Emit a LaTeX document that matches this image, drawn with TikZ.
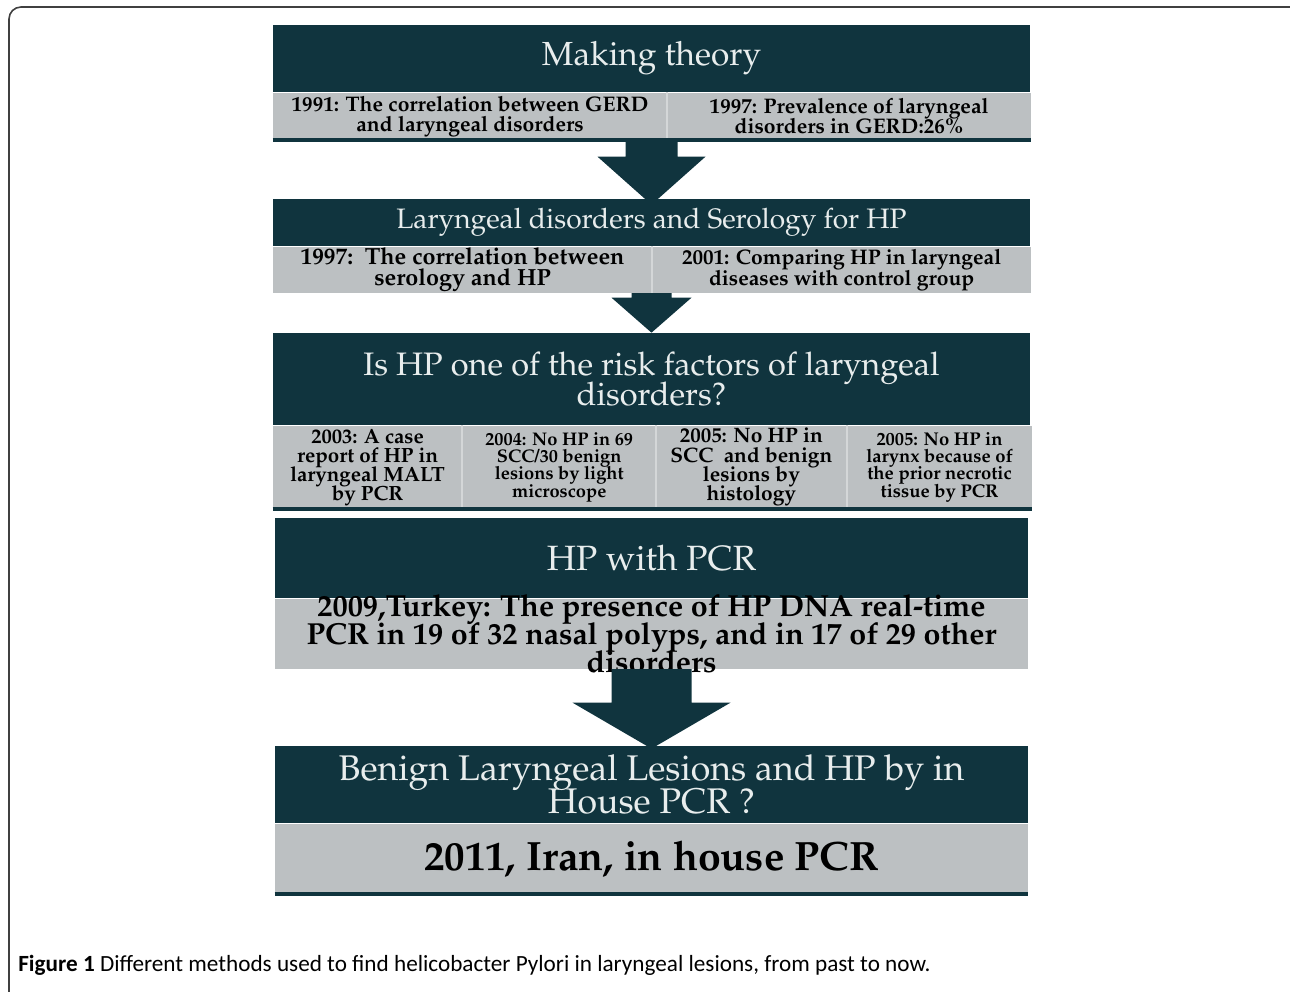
\documentclass[tikz,border=0pt]{standalone}
\usepackage[T1]{fontenc}
\usepackage{fontspec}
\usepackage{tikz}
\usetikzlibrary{positioning,calc}
\newfontfamily\capfont{Carlito}
\newcommand{\pal}{\fontencoding{T1}\fontfamily{ppl}\selectfont\lineskiplimit=-1cm\relax}
\definecolor{HpDark}{HTML}{10343E}
\definecolor{HpGray}{HTML}{BCC0C2}
\definecolor{HpLine}{HTML}{D4D7D8}
\definecolor{HpText}{HTML}{E8EDED}
% block arrow: from, to, half shaft, half head, head length, overlap
\newcommand{\blockarrow}[6]{\fill[HpDark] ($(#1)+(-#3,0)$) -- ($(#2)+(-#3,#5)$) -- ($(#2)+(-#4,#5)$) -- ($(#2)+(0,-#6)$) -- ($(#2)+(#4,#5)$) -- ($(#2)+(#3,#5)$) -- ($(#1)+(#3,0)$) -- cycle;}
\begin{document}
\begin{tikzpicture}[x=0.02cm, y=0.02cm,
  hdr/.style={fill=HpDark, text=HpText, inner sep=0pt, minimum width=15.14cm, align=center},
  cell/.style={fill=HpGray, text=black, inner sep=0pt, align=center},
  sep/.style={HpLine, line width=1.1pt},
  base/.style={HpDark, line width=1.8pt},
  frame/.style={draw=black!75, line width=0.9pt, rounded corners=0.24cm}]
\clip (0,0) rectangle (1290,-991);
\draw[frame] (9,-1010) -- (9,-7) -- (1302,-7) -- (1302,-1010);
% making theory
\node[hdr, minimum height=1.34cm, font=\pal\fontsize{19}{18}\selectfont] (h1) at (651.5,-58.5) {Making theory};
\node[cell, minimum width=7.88cm, minimum height=0.94cm, font=\pal\bfseries\fontsize{12}{11.5}\selectfont, below right=0pt and 0pt of h1.south west] (g1a) {1991: The correlation between GERD\\and laryngeal disorders};
\node[cell, minimum width=7.26cm, minimum height=0.94cm, font=\pal\bfseries\fontsize{12}{11.5}\selectfont, right=0pt of g1a] (g1b) {1997: Prevalence of laryngeal\\disorders in GERD:26\%};
\draw[sep] (g1a.north east) -- (g1a.south east);
\draw[base] (g1a.south west) -- (g1b.south east);
% serology
\node[hdr, minimum height=0.94cm, font=\pal\fontsize{16}{16}\selectfont] (h2) at (651.5,-222.5) {Laryngeal disorders and Serology for HP};
\node[cell, minimum width=7.58cm, minimum height=0.92cm, font=\pal\bfseries\fontsize{13.3}{12}\selectfont, below right=0pt and 0pt of h2.south west] (g2a) {1997:\ \ The correlation between\\serology and HP};
\node[cell, minimum width=7.56cm, minimum height=0.92cm, font=\pal\bfseries\fontsize{12}{12}\selectfont, right=0pt of g2a] (g2b) {2001: Comparing HP in laryngeal\\diseases with control group};
\draw[sep] (g2a.north east) -- (g2a.south east);
% risk factors
\node[hdr, minimum height=1.84cm, font=\pal\fontsize{18.5}{17.5}\selectfont] (h3) at (651.5,-379) {Is HP one of the risk factors of laryngeal\\disorders?};
\node[cell, minimum width=3.78cm, minimum height=1.66cm, font=\pal\bfseries\fontsize{11.7}{10.9}\selectfont, below right=0pt and 0pt of h3.south west] (g3a) {2003: A case\\report of HP in\\laryngeal MALT\\by PCR};
\node[cell, minimum width=3.86cm, minimum height=1.66cm, font=\pal\bfseries\fontsize{10.4}{9.9}\selectfont, right=0pt of g3a] (g3b) {2004: No HP in 69\\SCC/30 benign\\lesions by light\\microscope};
\node[cell, minimum width=3.80cm, minimum height=1.66cm, font=\pal\bfseries\fontsize{11.9}{11}\selectfont, right=0pt of g3b] (g3c) {2005: No HP in\\SCC\ \ and benign\\lesions by\\histology};
\node[cell, minimum width=3.70cm, minimum height=1.66cm, font=\pal\bfseries\fontsize{10.5}{9.9}\selectfont, right=0pt of g3c] (g3d) {2005: No HP in\\larynx because of\\the prior necrotic\\tissue by PCR};
\draw[sep] (g3a.north east) -- (g3a.south east);
\draw[sep] (g3b.north east) -- (g3b.south east);
\draw[sep] (g3c.north east) -- (g3c.south east);
\draw[base] (g3a.south west) -- (g3d.south east);
% pcr
\node[hdr, minimum width=15.06cm, minimum height=1.6cm, font=\pal\fontsize{20}{19}\selectfont] (h4) at (651.5,-558) {HP with PCR};
\node[cell, minimum width=15.06cm, minimum height=1.4cm, below=0pt of h4,
  label={[align=center, font=\pal\bfseries\fontsize{17.3}{16.2}\selectfont]center:2009,Turkey: The presence of HP DNA real-time\\PCR in 19 of 32 nasal polyps, and in 17 of 29 other\\disorders}] (g4) {};
% in house pcr
\node[hdr, minimum width=15.06cm, minimum height=1.54cm, font=\pal\fontsize{20.3}{19.2}\selectfont] (h5) at (651.5,-784.5) {Benign Laryngeal Lesions and HP by in\\House PCR ?};
\node[cell, minimum width=15.06cm, minimum height=1.4cm, font=\pal\bfseries\fontsize{23.3}{22}\selectfont, below=0pt of h5] (g5) {2011, Iran, in house PCR};
\draw[base] (g5.south west) -- (g5.south east);
% arrows
\coordinate (a1) at (h1.south |- g1a.south);
\coordinate (a2) at (h2.south |- g2a.south);
\coordinate (a3) at (g4.south);
\blockarrow{a1}{h2.north}{26}{54}{42}{6}
\blockarrow{a2}{h3.north}{20}{40}{35}{0}
\blockarrow{a3}{h5.north}{40}{79}{43}{3}
\node[anchor=west, inner sep=0pt, font=\capfont\fontsize{13.2}{15}\selectfont] (cap) at (18,-965) {\textbf{Figure 1} Different methods used to find helicobacter Pylori in laryngeal lesions, from past to now.};
\end{tikzpicture}
\end{document}
